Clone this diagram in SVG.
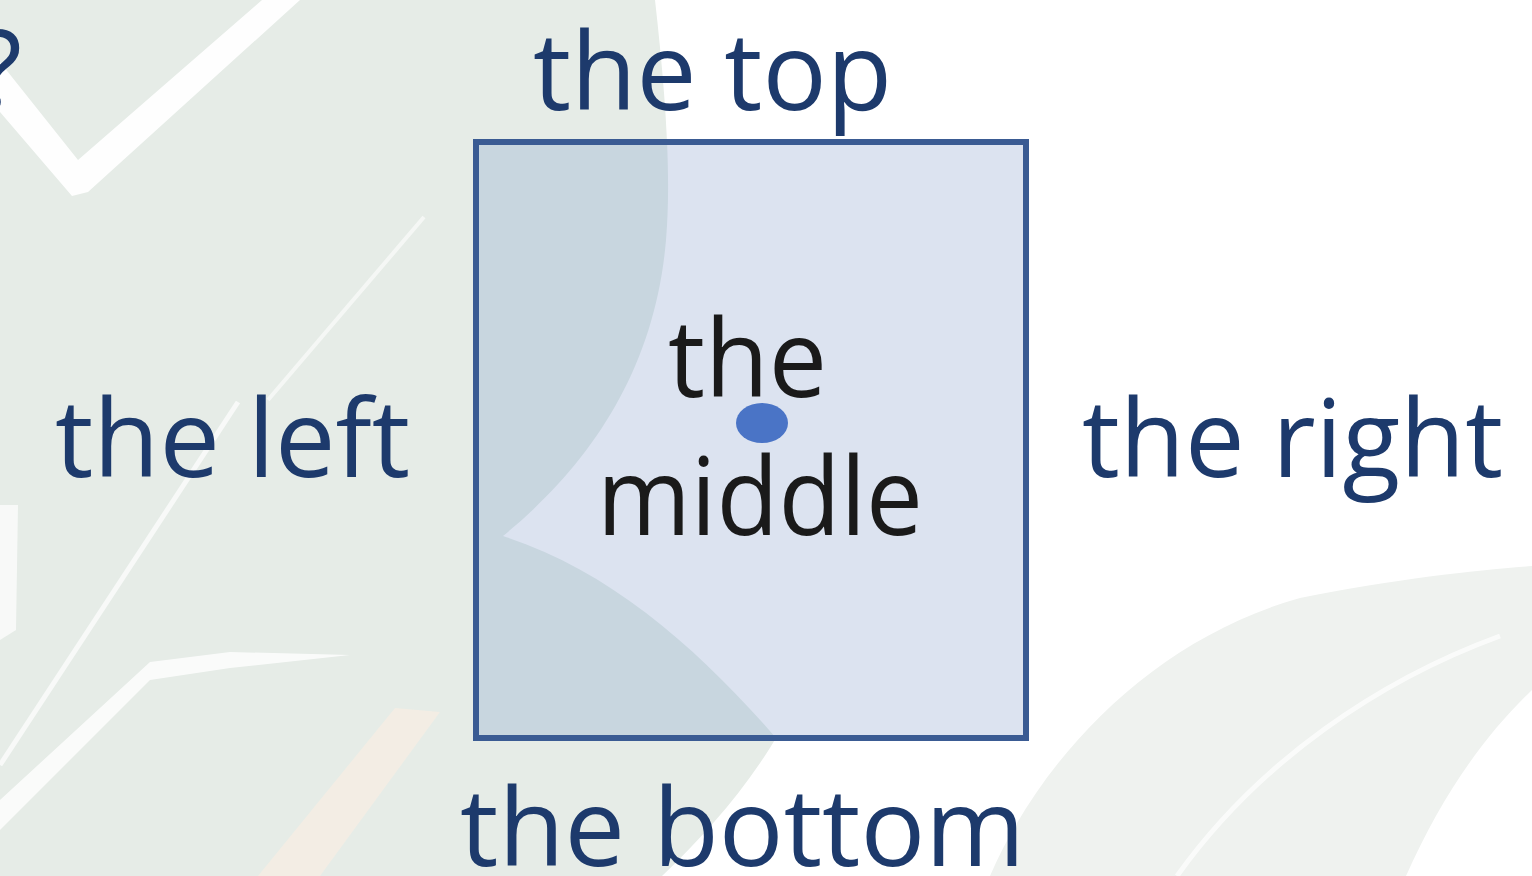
<svg xmlns="http://www.w3.org/2000/svg" width="1532" height="876" viewBox="0 0 1532 876">
  <style>
    .lbl { font-family: "Open Sans", "Noto Sans", sans-serif; font-size: 108px; fill: #1d3a6c; }
    .mid { font-family: "Open Sans", "Noto Sans", sans-serif; font-size: 108px; fill: #1a1a1a; }
  </style>
  <defs>
    <clipPath id="boxClip"><rect x="476" y="142" width="550" height="596"/></clipPath>
  </defs>
  <!-- background scene -->
  <g id="background">
    <rect x="0" y="0" width="1532" height="876" fill="#ffffff"/>
    <path id="leafLeft" d="M0,0 L655,0 C664,80 672,170 666,240 C655,370 590,465 503,536 C610,570 700,650 776,738 C745,790 705,835 662,876 L0,876 Z" fill="#e6ece7"/>
    <path d="M258,876 L320,876 L440,712 L395,708 Z" fill="#fbeee2" opacity="0.6"/>
    <path d="M0,62 L78,160 L262,0 L300,0 L88,192 L72,196 L0,112 Z" fill="#ffffff" opacity="0.95"/>
    <path d="M268,400 L424,217" stroke="#ffffff" stroke-width="4" fill="none" opacity="0.6"/>
    <path d="M238,402 L0,765" stroke="#ffffff" stroke-width="5" fill="none" opacity="0.7"/>
    <path d="M0,505 L18,505 L16,630 L0,640 Z" fill="#ffffff" opacity="0.7"/>
    <path d="M0,800 L150,662 L230,652 L350,655 L230,668 L150,680 L0,830 Z" fill="#ffffff" opacity="0.8"/>
    <path d="M990,876 C1040,760 1150,640 1300,598 C1400,578 1480,570 1532,566 L1532,690 C1480,740 1440,800 1406,876 Z" fill="#eff2ef"/>
    <path d="M1177,876 C1260,760 1380,680 1500,636" stroke="#ffffff" stroke-width="5" fill="none" opacity="0.7"/>
  </g>
  <!-- the square -->
  <g id="square">
    <rect x="476" y="142" width="550" height="596" fill="#dce3f0"/>
    <path clip-path="url(#boxClip)" d="M0,0 L655,0 C664,80 672,170 666,240 C655,370 590,465 503,536 C610,570 700,650 776,738 C745,790 705,835 662,876 L0,876 Z" fill="#c8d6df"/>
    <rect x="476" y="142" width="550" height="596" fill="none" stroke="#3a5b93" stroke-width="6"/>
  </g>
  <g id="middle-point">
    <ellipse cx="762" cy="423" rx="26" ry="20" fill="#4a74c6"/>
  </g>
  <g id="label-middle">
    <text class="mid" x="668" y="397" textLength="159" lengthAdjust="spacingAndGlyphs">the</text>
    <text class="mid" x="597" y="535" textLength="326" lengthAdjust="spacingAndGlyphs">middle</text>
  </g>
  <g id="label-top">
    <text class="lbl" x="533" y="110" textLength="359" lengthAdjust="spacingAndGlyphs">the top</text>
  </g>
  <g id="label-left">
    <text class="lbl" x="55" y="477" textLength="355" lengthAdjust="spacingAndGlyphs">the left</text>
  </g>
  <g id="label-right">
    <text class="lbl" x="1082" y="477" textLength="421" lengthAdjust="spacingAndGlyphs">the right</text>
  </g>
  <g id="label-bottom">
    <text class="lbl" x="460" y="866" textLength="565" lengthAdjust="spacingAndGlyphs">the bottom</text>
  </g>
  <g id="label-question">
    <text class="lbl" x="22" y="108" text-anchor="end">?</text>
  </g>
  <g id="connectors"></g>
</svg>
